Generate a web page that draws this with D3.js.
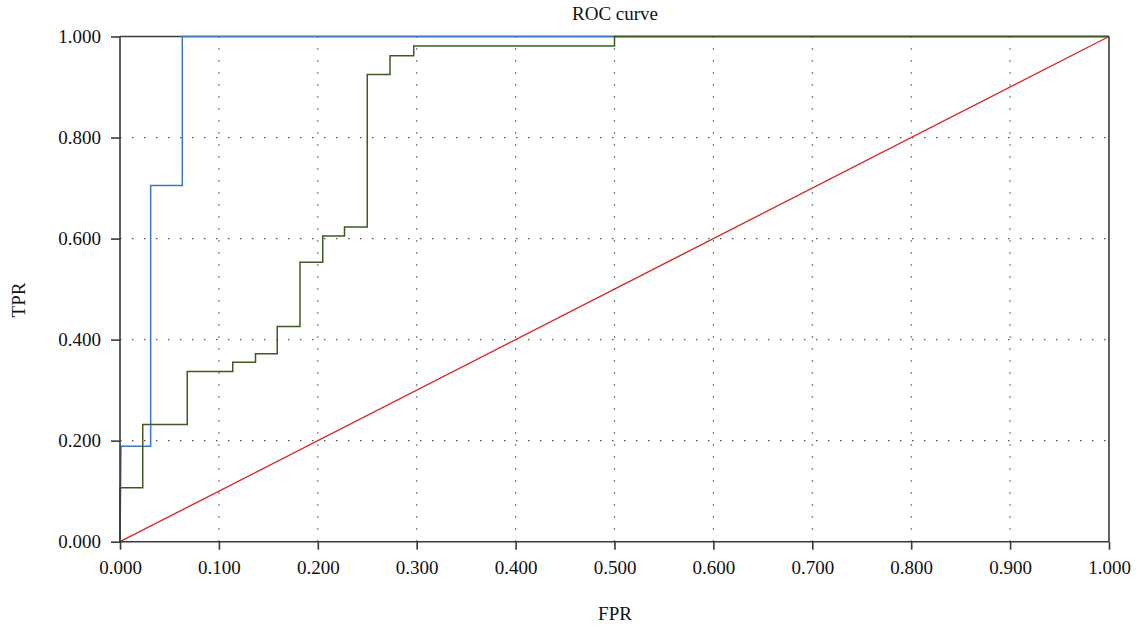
<!DOCTYPE html>
<html>
<head>
<meta charset="utf-8">
<script src="https://cdn.jsdelivr.net/npm/d3@7"></script>
<style>
  html, body { margin: 0; padding: 0; background: #fff; }
  text { font-family: "Liberation Serif", "Times New Roman", serif; fill: #111; }
</style>
</head>
<body>
<svg id="chart" width="1141" height="629"></svg>
<script>
// Data
const xTicks = [0, 0.1, 0.2, 0.3, 0.4, 0.5, 0.6, 0.7, 0.8, 0.9, 1.0];
const yTicks = [0, 0.2, 0.4, 0.6, 0.8, 1.0];
const blueFPR = [0, 0.001, 0.031, 0.031, 0.063, 0.063, 1.0];
const blueTPR = [0, 0.189, 0.189, 0.705, 0.705, 1.0, 1.0];
const greenFPR = [0, 0, 0.023, 0.023, 0.068, 0.068, 0.114, 0.114, 0.137, 0.137, 0.159, 0.159, 0.182, 0.182, 0.205, 0.205, 0.227, 0.227, 0.250, 0.250, 0.273, 0.273, 0.297, 0.297, 0.500, 0.500, 1.0];
const greenTPR = [0, 0.107, 0.107, 0.232, 0.232, 0.337, 0.337, 0.355, 0.355, 0.372, 0.372, 0.426, 0.426, 0.553, 0.553, 0.605, 0.605, 0.623, 0.623, 0.925, 0.925, 0.962, 0.962, 0.981, 0.981, 1.0, 1.0];
const diagFPR = [0, 1];
const diagTPR = [0, 1];

const svg = d3.select("#chart");
const x = d3.scaleLinear().domain([0, 1]).range([120, 1109]);
const y = d3.scaleLinear().domain([0, 1]).range([541.7, 36.5]);

// grid
const grid = svg.append("g");
grid.selectAll(".gx").data(xTicks.filter(d => d > 0 && d < 1)).enter().append("line")
  .attr("x1", d => x(d)).attr("x2", d => x(d)).attr("y1", y(0)).attr("y2", y(1))
  .attr("stroke", "#555").attr("stroke-width", 1.2).attr("stroke-dasharray", "1.5,10.5");
grid.selectAll(".gy").data(yTicks.filter(d => d > 0 && d < 1)).enter().append("line")
  .attr("x1", x(0)).attr("x2", x(1)).attr("y1", d => y(d)).attr("y2", d => y(d))
  .attr("stroke", "#555").attr("stroke-width", 1.2).attr("stroke-dasharray", "1.5,10.5");

// frame top/right
svg.append("line").attr("x1", x(0)).attr("x2", x(1)).attr("y1", y(1)).attr("y2", y(1))
  .attr("stroke", "#3a3a3a").attr("stroke-width", 1.6);
svg.append("line").attr("x1", x(1)).attr("x2", x(1)).attr("y1", y(0)).attr("y2", y(1))
  .attr("stroke", "#3a3a3a").attr("stroke-width", 1.6);

const line = d3.line().x(d => x(d[0])).y(d => y(d[1]));
function series(fx, fy) { return fx.map((v, i) => [v, fy[i]]); }

svg.append("path").datum(series(diagFPR, diagTPR)).attr("d", line)
  .attr("fill", "none").attr("stroke", "#d42a2a").attr("stroke-width", 1.4);
svg.append("path").datum(series(blueFPR, blueTPR)).attr("d", line)
  .attr("fill", "none").attr("stroke", "#3c78c4").attr("stroke-width", 1.5);
svg.append("path").datum(series(greenFPR, greenTPR)).attr("d", line)
  .attr("fill", "none").attr("stroke", "#3e5a22").attr("stroke-width", 1.5);

// axes
const fmt = d3.format(".3f");
const xAxis = svg.append("g").attr("transform", `translate(0,${y(0)})`)
  .call(d3.axisBottom(x).tickValues(xTicks).tickFormat(fmt).tickSize(8).tickPadding(11));
const yAxis = svg.append("g").attr("transform", `translate(${x(0)},0)`)
  .call(d3.axisLeft(y).tickValues(yTicks).tickFormat(fmt).tickSize(9).tickPadding(10));
[xAxis, yAxis].forEach(a => {
  a.select(".domain").attr("stroke", "#3a3a3a").attr("stroke-width", 1.6);
  a.selectAll(".tick line").attr("stroke", "#3a3a3a").attr("stroke-width", 1.6);
  a.selectAll(".tick text").style("font-family", "Liberation Serif, serif").style("font-size", "19px").attr("fill", "#111");
});
// extend domain lines to avoid end caps
xAxis.select(".domain").attr("d", `M${x(0)},0H${x(1)}`);
yAxis.select(".domain").attr("d", `M0,${y(0)}V${y(1)}`);

svg.append("text").attr("x", 615).attr("y", 20).attr("text-anchor", "middle")
  .style("font-size", "19px").text("ROC curve");
svg.append("text").attr("x", 615).attr("y", 620).attr("text-anchor", "middle")
  .style("font-size", "19px").text("FPR");
svg.append("text").attr("transform", "translate(25,300) rotate(-90)").attr("text-anchor", "middle")
  .style("font-size", "19px").text("TPR");
</script>
</body>
</html>
